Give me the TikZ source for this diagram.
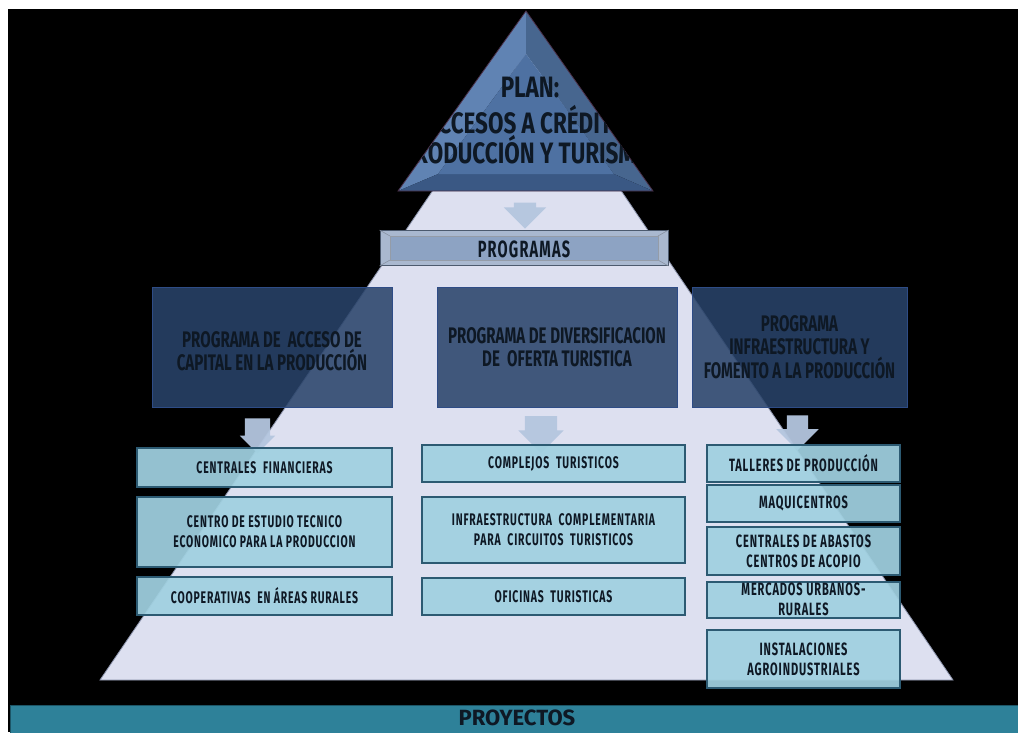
\documentclass[tikz,border=0pt]{standalone}
\usepackage{fontspec}
\setmainfont{Fira Sans}
\newfontfamily\hdf[FakeStretch=0.67]{Fira Sans}
\newfontfamily\ttlf[FakeStretch=0.76]{Fira Sans}
\newfontfamily\itf[FakeStretch=0.62,LetterSpace=5]{Fira Sans}
\usetikzlibrary{shapes.arrows}
\definecolor{lav}{HTML}{DDE0F0}
\definecolor{lavline}{HTML}{8A92AA}
\definecolor{navy}{HTML}{29436A}
\definecolor{progb}{HTML}{2E4C86}
\definecolor{itemc}{HTML}{A0D0E0}
\definecolor{itemb}{HTML}{2C5A72}
\definecolor{arrc}{HTML}{B4C6DF}
\definecolor{tealbar}{HTML}{2E8199}
\definecolor{tealline}{HTML}{1C5566}
\definecolor{ink}{HTML}{0E1824}
\definecolor{facetL}{HTML}{6083B3}
\definecolor{facetR}{HTML}{47668F}
\definecolor{facetB}{HTML}{3A5884}
\definecolor{facetI}{HTML}{4E71A2}
\definecolor{triline}{HTML}{4A3048}
\definecolor{barout}{HTML}{A9B8CF}
\definecolor{barin}{HTML}{8DA3C3}
\definecolor{barline}{HTML}{4C5A6E}
\tikzset{
  prog/.style={draw=progb, line width=1pt, fill=navy, fill opacity=0.87,
    text opacity=1, text=ink, align=center, inner sep=0pt,
    font=\hdf\bfseries\fontsize{22.5}{23.5}\selectfont},
  itembox/.style={draw=itemb, line width=1.2pt, fill=itemc, fill opacity=0.93,
    text opacity=1, text=ink, align=center, inner sep=0pt,
    font=\itf\bfseries\fontsize{16.8}{20}\selectfont},
  itemboxR/.style={itembox, font=\itf\bfseries\fontsize{17.8}{20}\selectfont},
  blockarrow/.style={single arrow, draw=none, fill=arrc, fill opacity=0.95,
    rotate=-90, inner xsep=0pt, single arrow head indent=0pt},
  titletext/.style={text=ink, inner sep=0pt, anchor=base,
    font=\ttlf\bfseries\fontsize{29.5}{30}\selectfont}
}
\begin{document}
\begin{tikzpicture}[x=1pt,y=-1pt]
\useasboundingbox (0,0) rectangle (1018,732);
\fill[white] (0,0) rectangle (1018,732);
\fill[black] (8,9) rectangle (1018,732);

% big pyramid
\filldraw[fill=lav, draw=lavline, line width=0.8pt] (527,52) -- (953,680) -- (100,680) -- cycle;

% top beveled triangle
\coordinate (tA) at (526,11);
\coordinate (tB) at (398,191);
\coordinate (tC) at (653,191);
\coordinate (ta) at (526,54);
\coordinate (tb) at (438,174);
\coordinate (tc) at (614,174);
\fill[facetL] (tA) -- (tB) -- (tb) -- (ta) -- cycle;
\fill[facetR] (tA) -- (ta) -- (tc) -- (tC) -- cycle;
\fill[facetB] (tB) -- (tC) -- (tc) -- (tb) -- cycle;
\fill[facetI] (ta) -- (tb) -- (tc) -- cycle;
\draw[triline, line width=0.8pt] (tA) -- (tB) -- (tC) -- cycle;

\begin{scope}
\clip (tA) -- (tB) -- (tC) -- cycle;
\node[titletext] (plan1) at (530,97) {PLAN:};
\node[titletext] (plan2) at (526,133) {ACCESOS A CRÉDITO};
\node[titletext] (plan3) at (526,163) {PRODUCCIÓN Y TURISMO};
\end{scope}

% PROGRAMAS bar
\node[draw=barline, line width=1pt, fill=barout, minimum width=288pt, minimum height=35pt, inner sep=0pt] (prg) at (524,248) {};
\fill[barin] (390,236) rectangle (658,260);
\draw[barline!70, line width=0.5pt] (prg.north west) -- (390,236) (prg.south west) -- (390,260)
  (prg.north east) -- (658,236) (prg.south east) -- (658,260);
\draw[barline!60, line width=0.5pt] (390,236) rectangle (658,260);
\node[text=ink, inner sep=0pt, font=\itf\bfseries\fontsize{23.5}{24}\selectfont] (prgtxt) at (524,249) {PROGRAMAS};

% arrow from plan to programas
\node[blockarrow, minimum height=26pt, inner ysep=11pt, single arrow head extend=10pt] (a0) at (525,210) {};

% program boxes
\node[prog, minimum width=240pt, minimum height=120pt] (p1) at (272,347) {};
\node[text=ink, align=center, inner sep=0pt, font=\hdf\bfseries\fontsize{22.5}{23.5}\selectfont] (p1t) at (272,351) {PROGRAMA DE\ \ ACCESO DE\\CAPITAL EN LA PRODUCCIÓN};
\node[prog, minimum width=240pt, minimum height=120pt] (p2) at (557,347) {PROGRAMA DE DIVERSIFICACION\\DE\ \ OFERTA TURISTICA};
\node[prog, minimum width=215pt, minimum height=120pt] (p3) at (799.5,347) {PROGRAMA\\INFRAESTRUCTURA Y\\FOMENTO A LA PRODUCCIÓN};

% arrows to projects
\node[blockarrow, minimum height=35pt, inner ysep=12.5pt, single arrow head extend=5pt] (a1) at (257.5,429.5) {};
\node[blockarrow, minimum height=37pt, inner ysep=16pt, single arrow head extend=6.5pt] (a2) at (541,426.5) {};
\node[blockarrow, minimum height=35pt, inner ysep=10.5pt, single arrow head extend=10.5pt] (a3) at (797.5,427.5) {};

% left column
\node[itembox, minimum width=255pt, minimum height=39pt] (c1) at (264.5,467.5) {CENTRALES\ \ FINANCIERAS};
\node[itembox, minimum width=255pt, minimum height=70pt] (c2) at (264.5,532) {CENTRO DE ESTUDIO TECNICO\\ECONOMICO PARA LA PRODUCCION};
\node[itembox, minimum width=255pt, minimum height=38pt] (c3) at (264.5,596) {COOPERATIVAS\ \ EN ÁREAS RURALES};

% middle column
\node[itembox, minimum width=263pt, minimum height=37pt] (m1) at (553.5,463.5) {COMPLEJOS\ \ TURISTICOS};
\node[itembox, minimum width=263pt, minimum height=66pt] (m2) at (553.5,530) {INFRAESTRUCTURA\ \ COMPLEMENTARIA\\PARA\ \ CIRCUITOS\ \ TURISTICOS};
\node[itembox, minimum width=263pt, minimum height=37pt] (m3) at (553.5,596.5) {OFICINAS\ \ TURISTICAS};

% right column
\node[itemboxR, minimum width=193pt, minimum height=37pt] (r1) at (803.5,463.5) {TALLERES DE PRODUCCIÓN};
\node[itemboxR, minimum width=193pt, minimum height=37pt] (r2) at (803.5,503.5) {MAQUICENTROS};
\node[itemboxR, minimum width=193pt, minimum height=48pt] (r3) at (803.5,551) {CENTRALES DE ABASTOS\\CENTROS DE ACOPIO};
\node[itemboxR, minimum width=193pt, minimum height=36pt] (r4) at (803.5,600) {};
\node[text=ink, align=center, inner sep=0pt, font=\itf\bfseries\fontsize{17.8}{20}\selectfont] (r4t) at (803.5,599) {MERCADOS URBANOS-\\RURALES};
\node[itemboxR, minimum width=193pt, minimum height=58pt] (r5) at (803.5,659) {INSTALACIONES\\AGROINDUSTRIALES};

% bottom bar
\fill[tealbar] (10,705) rectangle (1018,733);
\draw[tealline, line width=1pt] (10,733) -- (10,705) -- (1018,705);
\node[text=ink, inner sep=0pt, anchor=base, font=\bfseries\fontsize{22}{24}\selectfont] (proy) at (517,725) {PROYECTOS};
\end{tikzpicture}
\end{document}
